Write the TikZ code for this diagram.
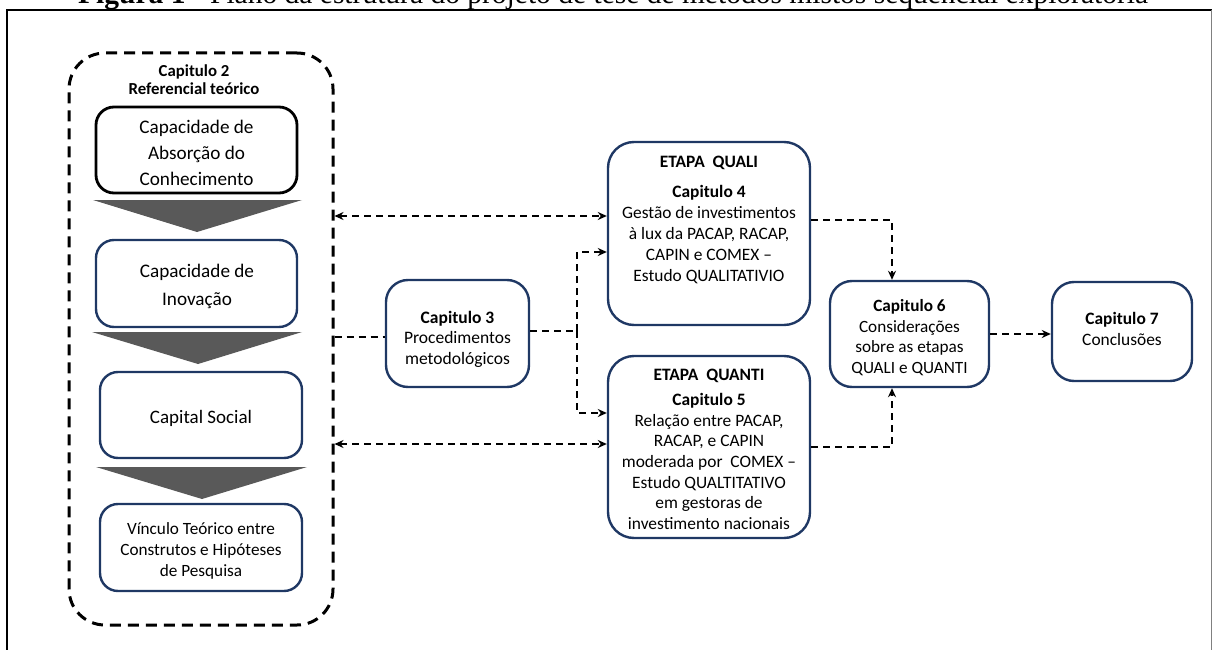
\documentclass[tikz,border=0pt]{standalone}
\usepackage{fontspec}
\setmainfont{Carlito}
\newfontfamily\titlefont{Liberation Serif}
\usetikzlibrary{arrows.meta}
\definecolor{navy}{RGB}{31,56,100}
\definecolor{wedge}{RGB}{89,89,89}
\tikzset{
  box/.style={draw=navy, line width=2.4pt, rounded corners=18pt, fill=white, inner sep=0pt},
  bigbox/.style={box, rounded corners=26pt},
  txt/.style={align=center, inner sep=0pt},
  link/.style={line width=1.9pt, dash pattern=on 7pt off 5pt},
  tip/.style={-{Stealth[length=9pt,width=8pt]}},
  tips/.style={{Stealth[length=9pt,width=8pt]}-{Stealth[length=9pt,width=8pt]}},
}
\begin{document}
\begin{tikzpicture}[x=1pt,y=-1pt]
\useasboundingbox (0,0) rectangle (1213,650);
\clip (0,0) rectangle (1213,650);

% caption line, cut by the top of the page
\node[anchor=base west, inner sep=0pt, font=\titlefont\fontsize{29.5}{32}\selectfont] (titulo) at (78,4)
  {\textbf{Figura 1} - Plano da estrutura do projeto de tese de métodos mistos sequencial exploratória};

% page frame
\draw[line width=2pt] (7,650) -- (7,10) -- (1212,10);
\draw[gray, line width=1pt] (1211,10) -- (1211,650);

% chapter 2 container
\node[draw, line width=3pt, dash pattern=on 11pt off 7pt, rounded corners=36pt,
  minimum width=264pt, minimum height=572pt, inner sep=0pt] (ch2) at (201,339) {};
\node[txt, font=\bfseries\fontsize{16.8}{18}\selectfont] (ch2title) at (194,80)
  {Capitulo 2\\Referencial teórico};

\node[box, draw=black, line width=2.8pt, minimum width=201pt, minimum height=86pt] (absorcao) at (196.5,150) {};
\node[txt, font=\fontsize{19.2}{26}\selectfont] (absorcaotxt) at (196.5,153)
  {Capacidade de\\Absorção do\\Conhecimento};
\fill[wedge] (93,200) -- (302,200) -- (197,232) -- cycle;

\node[box, minimum width=201pt, minimum height=87pt] (inovacao) at (196.5,283.5) {};
\node[txt, font=\fontsize{19.2}{28}\selectfont] (inovacaotxt) at (197,286)
  {Capacidade de\\Inovação};
\fill[wedge] (92,332) -- (302,332) -- (198,364) -- cycle;

\node[box, minimum width=202pt, minimum height=86pt] (social) at (201,415) {};
\node[txt, font=\fontsize{19}{24}\selectfont] (socialtxt) at (201,418) {Capital Social};
\fill[wedge] (96,467) -- (307,467) -- (202,499) -- cycle;

\node[box, minimum width=202pt, minimum height=87pt] (vinculo) at (201,547.5) {};
\node[txt, font=\fontsize{17.2}{21}\selectfont] (vinculotxt) at (201,551)
  {Vínculo Teórico entre\\Construtos e Hipóteses\\de Pesquisa};

% chapter 3
\node[box, rounded corners=22pt, minimum width=143pt, minimum height=107pt] (cap3) at (457.5,333.5) {};
\node[txt, font=\fontsize{17.5}{20.5}\selectfont] (cap3txt) at (457.5,339)
  {\textbf{Capitulo 3}\\Procedimentos\\metodológicos};

% qualitative stage
\node[bigbox, minimum width=202pt, minimum height=183pt] (cap4) at (709,233.5) {};
\node[txt, font=\fontsize{17.4}{21}\selectfont] (cap4txt) at (709,220)
  {\textbf{ETAPA\ \ QUALI}\\[9pt]\textbf{Capitulo 4}\\Gestão de investimentos\\à lux da PACAP, RACAP,\\CAPIN e COMEX –\\Estudo QUALITATIVIO};

% quantitative stage
\node[bigbox, minimum width=202pt, minimum height=182pt] (cap5) at (709,447) {};
\node[txt, font=\fontsize{17.4}{20.7}\selectfont] (cap5txt) at (709,449.5)
  {\textbf{ETAPA\ \ QUANTI}\\[4pt]\textbf{Capitulo 5}\\Relação entre PACAP,\\RACAP, e CAPIN\\moderada por\ \ COMEX –\\Estudo QUALTITATIVO\\em gestoras de\\investimento nacionais};

% synthesis and conclusions
\node[box, rounded corners=22pt, minimum width=159pt, minimum height=106pt] (cap6) at (909.5,334) {};
\node[txt, font=\fontsize{17.2}{20.5}\selectfont] (cap6txt) at (909.5,337.5)
  {\textbf{Capitulo 6}\\Considerações\\sobre as etapas\\QUALI e QUANTI};
\node[box, rounded corners=22pt, minimum width=140pt, minimum height=99pt] (cap7) at (1122,331.5) {};
\node[txt, font=\fontsize{17.4}{21}\selectfont] (cap7txt) at (1122,329)
  {\textbf{Capitulo 7}\\Conclusões};

% connectors
\coordinate (split) at (577,331);
\coordinate (join) at (892,0);
\draw[link] (ch2.east |- 0,337) -- (cap3.west |- 0,337);
\draw[link, tips] (ch2.east |- 0,216) -- (cap4.west |- 0,216);
\draw[link, tips] (ch2.east |- 0,444) -- (cap5.west |- 0,444);
\draw[link] (cap3.east |- split) -- (split);
\draw[link, tip] (split) |- (cap4.west |- 0,252);
\draw[link, tip] (split) |- (cap5.west |- 0,413);
\draw[link, tip] (cap4.east |- 0,220) -| (cap6.north -| join);
\draw[link, tip] (cap5.east |- 0,447) -| (cap6.south -| join);
\draw[link, tip] (cap6.east) -- (cap7.west |- cap6.east);
\end{tikzpicture}
\end{document}
